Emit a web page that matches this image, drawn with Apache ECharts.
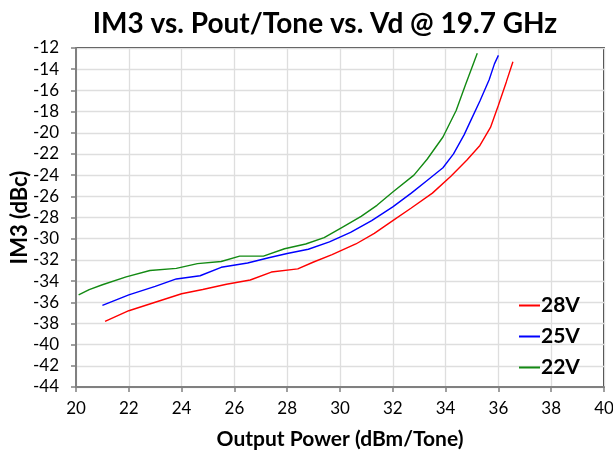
<!DOCTYPE html>
<html>
<head>
<meta charset="utf-8">
<script src="https://cdn.jsdelivr.net/npm/echarts@6/dist/echarts.min.js"></script>
<style>
  html, body { margin: 0; padding: 0; background: #fff; }
  #chart { width: 613px; height: 451px; }
</style>
</head>
<body>
<div id="chart"></div>
<script>
var seriesNames = ["28V", "25V", "22V"];
var seriesColors = ["#ff0000", "#0000ff", "#138a13"];

// Pout/Tone (dBm) and IM3 (dBc)
var pout28 = [21.1, 22.0, 23.0, 24.0, 24.8, 25.7, 26.6, 27.4, 28.4, 29.0, 29.7, 30.6, 31.3, 32.0, 32.7, 33.5, 34.2, 34.8, 35.3, 35.7, 36.0, 36.3, 36.55];
var im3_28 = [-37.8, -36.8, -36.0, -35.2, -34.8, -34.3, -33.9, -33.15, -32.85, -32.2, -31.5, -30.5, -29.5, -28.3, -27.1, -25.7, -24.1, -22.6, -21.2, -19.5, -17.4, -15.2, -13.3];

var pout25 = [21.0, 22.0, 23.0, 23.8, 24.7, 25.5, 26.5, 27.3, 28.0, 28.8, 29.6, 30.4, 31.2, 32.0, 32.7, 33.3, 33.9, 34.3, 34.7, 35.0, 35.3, 35.65, 35.85, 36.0];
var im3_25 = [-36.3, -35.3, -34.5, -33.8, -33.5, -32.7, -32.3, -31.8, -31.4, -31.0, -30.3, -29.4, -28.3, -27.0, -25.7, -24.5, -23.3, -22.0, -20.2, -18.6, -17.0, -15.0, -13.5, -12.7];

var pout22 = [20.1, 20.5, 21.0, 21.9, 22.8, 23.8, 24.6, 25.5, 26.2, 27.1, 27.9, 28.7, 29.4, 30.1, 30.8, 31.4, 32.0, 32.8, 33.3, 33.9, 34.4, 34.75, 35.2];
var im3_22 = [-35.3, -34.8, -34.35, -33.6, -33.0, -32.8, -32.35, -32.15, -31.65, -31.65, -30.95, -30.5, -29.9, -28.9, -27.9, -26.85, -25.6, -24.0, -22.5, -20.4, -17.9, -15.5, -12.5];

function pairs(xs, ys) {
  var out = [];
  for (let i = 0; i < xs.length; i++) out.push([xs[i], ys[i]]);
  return out;
}

var font = "Lato, 'Liberation Sans', sans-serif";
var myChart = echarts.init(document.getElementById("chart"));
var allData = [pairs(pout28, im3_28), pairs(pout25, im3_25), pairs(pout22, im3_22)];

var option = {
  animation: false,
  title: {
    text: "IM3 vs. Pout/Tone vs. Vd @ 19.7 GHz",
    left: 320,
    top: 5,
    textAlign: "center",
    textStyle: { fontFamily: font, fontSize: 28, fontWeight: "bold", color: "#000" }
  },
  legend: {
    orient: "vertical",
    left: 514,
    top: 290,
    itemGap: 10,
    itemWidth: 21,
    itemHeight: 2,
    icon: "rect",
    data: seriesNames,
    textStyle: { fontFamily: font, fontSize: 21, fontWeight: "bold", color: "#000", padding: [0, 0, 0, -4] }
  },
  grid: {
    left: 76,
    right: 9,
    top: 48,
    bottom: 64,
    outerBoundsMode: "none",
    containLabel: false,
    show: true,
    borderColor: "#000",
    borderWidth: 1.5
  },
  xAxis: {
    type: "value",
    min: 20,
    max: 40,
    interval: 2,
    name: "Output Power (dBm/Tone)",
    nameLocation: "middle",
    nameGap: 42,
    nameTextStyle: { fontFamily: font, fontSize: 21, fontWeight: "bold", color: "#000" },
    axisLine: { onZero: false, lineStyle: { color: "#808080", width: 2 } },
    axisTick: { show: true, length: 5, lineStyle: { color: "#808080", width: 1.5 } },
    axisLabel: { fontFamily: font, fontSize: 17, color: "#000", margin: 13 },
    splitLine: { lineStyle: { color: "#dedede", width: 1.3 } }
  },
  yAxis: {
    type: "value",
    min: -44,
    max: -12,
    interval: 2,
    name: "IM3 (dBc)",
    nameLocation: "middle",
    nameGap: 45,
    nameRotate: 90,
    nameMoveOverlap: false,
    nameTextStyle: { fontFamily: font, fontSize: 22, fontWeight: "bold", color: "#000" },
    axisLine: { onZero: false, lineStyle: { color: "#808080", width: 2 } },
    axisTick: { show: true, length: 5, lineStyle: { color: "#808080", width: 1.5 } },
    axisLabel: { fontFamily: font, fontSize: 17, color: "#000", margin: 17 },
    splitLine: { lineStyle: { color: "#dedede", width: 1.3 } }
  },
  series: seriesNames.map(function (name, i) {
    return {
      name: name,
      type: "line",
      data: allData[i],
      symbol: "none",
      smooth: false,
      color: seriesColors[i],
      lineStyle: { width: 1.4, color: seriesColors[i] }
    };
  })
};
myChart.setOption(option);
</script>
</body>
</html>
